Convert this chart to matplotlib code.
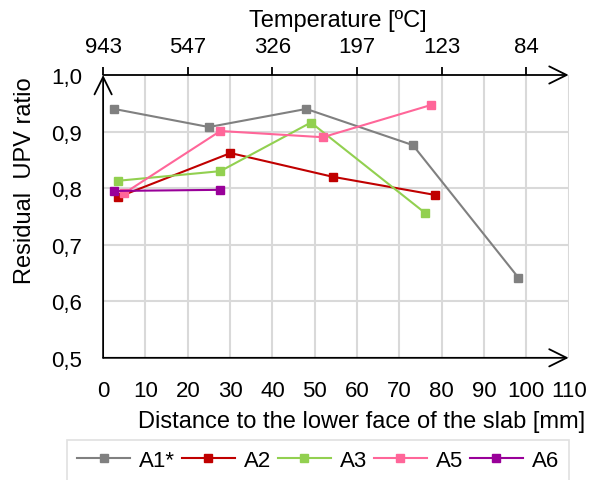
import matplotlib.pyplot as plt
from matplotlib.lines import Line2D

plt.rcParams['font.family'] = ['Liberation Sans', 'DejaVu Sans']

# data
a1_x = [2.6, 25.0, 48.0, 73.2, 98.1]
a1_y = [0.940, 0.908, 0.940, 0.876, 0.642]
a2_x = [3.5, 30.1, 54.3, 78.4]
a2_y = [0.784, 0.862, 0.820, 0.788]
a3_x = [3.5, 27.7, 49.1, 76.1]
a3_y = [0.813, 0.830, 0.916, 0.756]
a5_x = [5.0, 27.7, 51.9, 77.5]
a5_y = [0.791, 0.901, 0.890, 0.947]
a6_x = [2.6, 27.7]
a6_y = [0.795, 0.797]

series = [
    ('A1*', a1_x, a1_y, '#808080'),
    ('A2', a2_x, a2_y, '#c00000'),
    ('A3', a3_x, a3_y, '#92d050'),
    ('A5', a5_x, a5_y, '#ff6699'),
    ('A6', a6_x, a6_y, '#990099'),
]

x_ticks = list(range(0, 111, 10))
y_ticks = [0.5, 0.6, 0.7, 0.8, 0.9, 1.0]
y_labels = ['0,5', '0,6', '0,7', '0,8', '0,9', '1,0']
temp_pos = [0, 20, 40, 60, 80, 100]
temp_labels = ['943', '547', '326', '197', '123', '84']

fs = 16
lfs = 17
fig = plt.figure(figsize=(6.03, 4.81), dpi=100)
ax = fig.add_axes([0.171, 0.254, 0.772, 0.588])
ax.set_xlim(0, 110)
ax.set_ylim(0.5, 1.0)

for gx in x_ticks[1:]:
    ax.axvline(gx, color='#d9d9d9', lw=1.5, zorder=0)
for gy in y_ticks[1:-1]:
    ax.axhline(gy, color='#d9d9d9', lw=1.5, zorder=0)

for name, xs, ys, c in series:
    ax.plot(xs, ys, color=c, lw=1.5, marker='s', markersize=5.5, label=name, zorder=3)

for s in ax.spines.values():
    s.set_visible(False)

ax.set_xticks(x_ticks)
ax.set_xticklabels([str(v) for v in x_ticks], fontsize=fs)
ax.set_yticks(y_ticks)
ax.set_yticklabels(y_labels, fontsize=fs)
ax.tick_params(axis='y', length=0, pad=15)
ax.tick_params(axis='x', length=0, pad=16)
ax.set_xlabel('Distance to the lower face of the slab [mm]', fontsize=lfs, va='top')
ax.xaxis.set_label_coords(0.556, -0.185)
ax.set_ylabel('Residual  UPV ratio', fontsize=lfs)
ax.yaxis.set_label_coords(-0.145, 0.63)

arrow = dict(arrowstyle='->,head_length=1.25,head_width=0.62', color='black', lw=1.3,
             shrinkA=0, shrinkB=0)
ax.annotate('', xy=(1.0, 0), xytext=(0, 0), xycoords='axes fraction', arrowprops=arrow)
ax.annotate('', xy=(1.0, 1.0), xytext=(0, 1.0), xycoords='axes fraction', arrowprops=arrow)
ax.annotate('', xy=(0, 1.0), xytext=(0, 0), xycoords='axes fraction', arrowprops=arrow)

top = ax.twiny()
top.set_xlim(ax.get_xlim())
for s in top.spines.values():
    s.set_visible(False)
top.set_xticks(temp_pos)
top.set_xticklabels(temp_labels, fontsize=fs)
top.tick_params(axis='x', length=6, width=1.3, direction='out', pad=7)
top.set_xlabel('Temperature [ºC]', fontsize=lfs)
top.xaxis.set_label_coords(0.504, 1.175)

handles = [Line2D([], [], color=c, lw=1.5, marker='s', markersize=5.5) for _, _, _, c in series]
leg = fig.legend(handles, [s[0] for s in series], loc='upper left',
                 bbox_to_anchor=(67 / 603, 0.0, 502 / 603, 1 - 441 / 481),
                 mode='expand', ncol=5, fontsize=fs,
                 frameon=True, fancybox=False, edgecolor='#d9d9d9',
                 handlelength=2.4, handletextpad=0.4, columnspacing=0.8,
                 borderpad=0.45, borderaxespad=0)
leg.get_frame().set_linewidth(1.2)

fig.savefig('out.png', dpi=100)
